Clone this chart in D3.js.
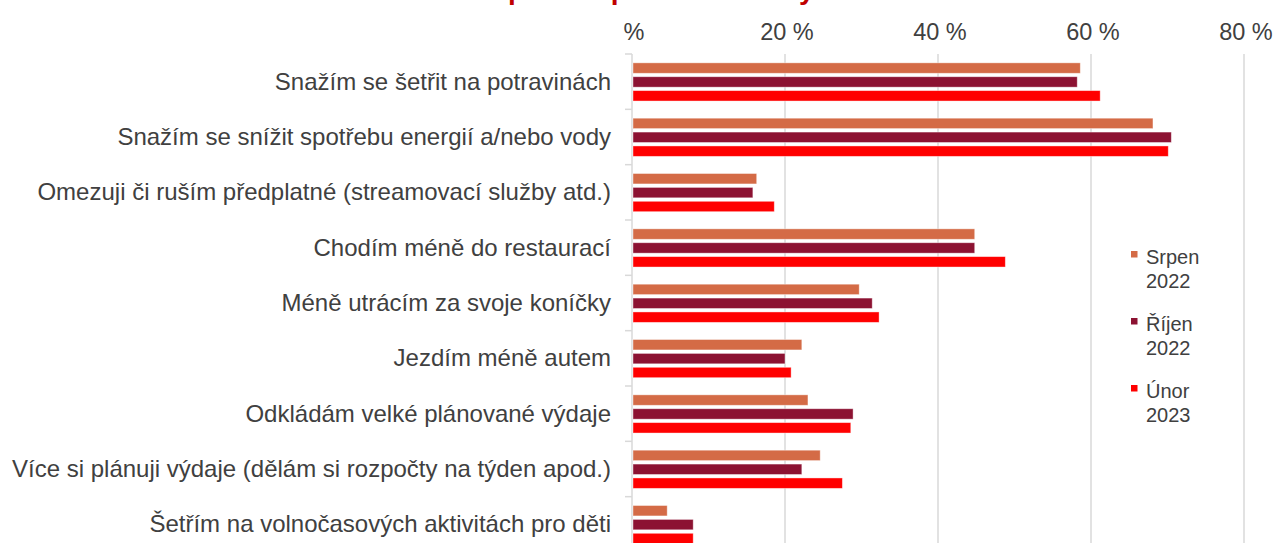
<!DOCTYPE html>
<html>
<head>
<meta charset="utf-8">
<script src="https://cdn.jsdelivr.net/npm/d3@7"></script>
<style>
  html, body { margin: 0; padding: 0; background: #fff; overflow: hidden; }
  svg { display: block; font-family: "Liberation Sans", Arial, sans-serif; }
</style>
</head>
<body>
<div id="chart"></div>
<script>
// kategorie opatření
const categories = [
  "Snažím se šetřit na potravinách",
  "Snažím se snížit spotřebu energií a/nebo vody",
  "Omezuji či ruším předplatné (streamovací služby atd.)",
  "Chodím méně do restaurací",
  "Méně utrácím za svoje koníčky",
  "Jezdím méně autem",
  "Odkládám velké plánované výdaje",
  "Více si plánuji výdaje (dělám si rozpočty na týden apod.)",
  "Šetřím na volnočasových aktivitách pro děti"
];

const seriesNames = ["Srpen 2022", "Říjen 2022", "Únor 2023"];
const srpen2022 = [58.6, 68.1, 16.3, 44.8, 29.7, 22.2, 23.0, 24.6, 4.6];
const rijen2022 = [58.2, 70.5, 15.8, 44.8, 31.4, 20.0, 28.9, 22.2, 8.0];
const unor2023  = [61.2, 70.1, 18.6, 48.8, 32.3, 20.8, 28.6, 27.5, 8.0];
const tickValues = [0, 20, 40, 60, 80];
const tickLabels = ["%", "20 %", "40 %", "60 %", "80 %"];
const colors = ["#D46B46", "#8C1232", "#FF0000"];
const titleText = "Úsporná opatření kvůli vysoké inflaci";

const W = 1277, H = 543;
const plot = { left: 632, right: 1244, top: 54, bottom: 552 };

const svg = d3.select("#chart").append("svg")
  .attr("width", W).attr("height", H);

const x = d3.scaleLinear().domain([0, 80]).range([plot.left, plot.right]);
const y = d3.scaleBand().domain(categories).range([plot.top, plot.bottom]).padding(0);
const ySub = d3.scaleBand().domain(seriesNames)
  .range([y.bandwidth() * 0.16, y.bandwidth() * 0.85]).paddingInner(0.25);

// mřížka
svg.append("g")
  .selectAll("line")
  .data(tickValues.slice(1))
  .join("line")
  .attr("x1", d => x(d)).attr("x2", d => x(d))
  .attr("y1", plot.top).attr("y2", plot.bottom)
  .attr("stroke", "#D9D9D9").attr("stroke-width", 1.5);

// popisky osy x nahoře
svg.append("g")
  .selectAll("text")
  .data(tickValues)
  .join("text")
  .attr("x", d => x(d) + 2)
  .attr("y", 40)
  .attr("text-anchor", "middle")
  .attr("fill", "#404040")
  .style("font-size", "23.5px")
  .text((d, i) => tickLabels[i]);

// osa y
const yAxis = svg.append("g")
  .attr("transform", `translate(${plot.left},0)`);
yAxis.append("line")
  .attr("y1", plot.top).attr("y2", plot.bottom)
  .attr("stroke", "#D9D9D9").attr("stroke-width", 1.5);
yAxis.selectAll(".sep")
  .data(categories.concat(["end"]))
  .join("line")
  .attr("class", "sep")
  .attr("x1", -7).attr("x2", 0)
  .attr("y1", (d, i) => i < categories.length ? y(d) : plot.bottom)
  .attr("y2", (d, i) => i < categories.length ? y(d) : plot.bottom)
  .attr("stroke", "#D9D9D9").attr("stroke-width", 1.5);

// popisky kategorií
svg.append("g")
  .selectAll("text")
  .data(categories)
  .join("text")
  .attr("x", 611)
  .attr("y", d => y(d) + y.bandwidth() / 2 + 8)
  .attr("text-anchor", "end")
  .attr("fill", "#404040")
  .style("font-size", "24px")
  .text(d => d);

// sloupce
const allSeries = [srpen2022, rijen2022, unor2023];
const groups = svg.append("g")
  .selectAll("g")
  .data(categories)
  .join("g")
  .attr("transform", d => `translate(0,${y(d)})`);

groups.selectAll("rect")
  .data((d, ci) => seriesNames.map((s, si) => ({ s, si, v: allSeries[si][ci] })))
  .join("rect")
  .attr("x", x(0) + 1)
  .attr("y", d => ySub(d.s))
  .attr("width", d => x(d.v) - x(0) - 1)
  .attr("height", ySub.bandwidth())
  .attr("fill", d => colors[d.si])
  .attr("stroke", "#fff")
  .attr("stroke-opacity", 0.5)
  .attr("stroke-width", 0.8);

// legenda
const legendPos = [251, 318, 385];
const legend = svg.append("g")
  .selectAll("g")
  .data(seriesNames)
  .join("g")
  .attr("transform", (d, i) => `translate(1131,${legendPos[i]})`);

legend.append("rect")
  .attr("x", 0).attr("y", 0)
  .attr("width", 6.5).attr("height", 6.5)
  .attr("fill", (d, i) => colors[i]);

legend.append("text")
  .attr("x", 15).attr("y", 0)
  .attr("fill", "#404040")
  .style("font-size", "20px")
  .selectAll("tspan")
  .data(d => d.split(" "))
  .join("tspan")
  .attr("x", 15)
  .attr("dy", (d, i) => i === 0 ? 13 : 24)
  .text(d => d);

// titulek (skoro celý mimo obraz)
const title = svg.append("text")
  .attr("x", 0).attr("y", -1)
  .attr("fill", "#C00000")
  .style("font-size", "28px")
  .style("font-weight", "bold")
  .text(titleText);
const p0 = title.node().getStartPositionOfChar(2).x;
title.attr("x", 508 - p0);
</script>
</body>
</html>
